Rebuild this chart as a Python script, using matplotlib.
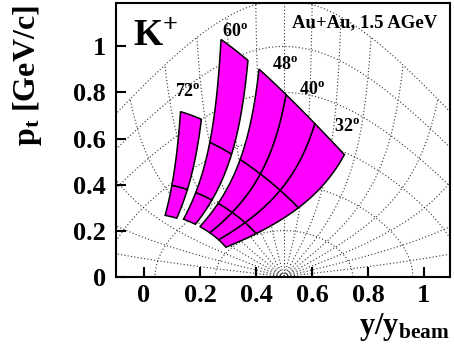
import numpy as np
import matplotlib.pyplot as plt

plt.rcParams['font.family'] = ['Liberation Serif', 'DejaVu Serif']
plt.rcParams['font.weight'] = 'bold'
plt.rcParams['axes.labelweight'] = 'bold'
plt.rcParams['mathtext.fontset'] = 'custom'
plt.rcParams['mathtext.rm'] = 'Liberation Serif:bold'
plt.rcParams['mathtext.it'] = 'Liberation Serif:bold'
plt.rcParams['mathtext.bf'] = 'Liberation Serif:bold'
plt.rcParams['mathtext.default'] = 'rm'

m_k = 0.4937      # K+ mass
y_beam = 1.609    # Au+Au 1.5 AGeV

# acceptance bins: lab-angle edges (deg) and lab-momentum edges (GeV/c)
band72_theta = [67.5, 75.6]
band72_p = [0.275, 0.41, 0.74]
band60_theta = [54.4, 63.1]
band60_p = [0.28, 0.41, 0.655, 1.155]
fwd_theta = [27.2, 35.0, 43.0, 51.0]
fwd_p = [0.28, 0.41, 0.655, 1.16]

# c.m. grid: momentum arcs and polar-angle rays
grid_pcm = [0.2, 0.4, 0.6, 0.8, 1.0, 1.2]
grid_theta_cm = list(range(0, 181, 10))

angle_labels = ['72', '60', '48', '40', '32']
label_x = [0.158, 0.325, 0.505, 0.60, 0.725]
label_pt = [0.804, 1.065, 0.92, 0.812, 0.652]

xticks = [0, 0.2, 0.4, 0.6, 0.8, 1.0]
xticklabels = ['0', '0.2', '0.4', '0.6', '0.8', '1']
yticks = [0, 0.2, 0.4, 0.6, 0.8, 1.0]
yticklabels = ['0', '0.2', '0.4', '0.6', '0.8', '1']


def to_xy(p, theta_deg, shift=0.0):
    th = np.radians(theta_deg)
    pt = p * np.sin(th)
    pz = p * np.cos(th)
    e = np.sqrt(p**2 + m_k**2)
    y = 0.5 * np.log((e + pz) / (e - pz))
    return y / y_beam + shift, pt


def draw_band(ax, thetas, moms):
    n = 40
    for i in range(len(thetas) - 1):
        for j in range(len(moms) - 1):
            t0, t1 = thetas[i], thetas[i + 1]
            p0, p1 = moms[j], moms[j + 1]
            pp = np.concatenate([
                np.linspace(p0, p1, n), np.full(n, p1),
                np.linspace(p1, p0, n), np.full(n, p0)])
            tt = np.concatenate([
                np.full(n, t0), np.linspace(t0, t1, n),
                np.full(n, t1), np.linspace(t1, t0, n)])
            x, pt = to_xy(pp, tt)
            ax.fill(x, pt, facecolor='#ff00ff', edgecolor='black',
                    linewidth=1.1, zorder=3)


fig = plt.figure(figsize=(4.54, 3.59), dpi=100)
ax = fig.add_axes([0.2549, 0.2292, 0.7356, 0.7633])

dot = dict(color='0.2', linestyle=(0, (1, 2)), linewidth=0.8, zorder=1)
th_fine = np.linspace(0, 180, 400)
for p in grid_pcm:
    x, pt = to_xy(np.full_like(th_fine, p), th_fine, 0.5)
    ax.plot(x, pt, **dot)
p_fine = np.linspace(0, grid_pcm[-1], 300)
for th in grid_theta_cm:
    x, pt = to_xy(p_fine, np.full_like(p_fine, th), 0.5)
    ax.plot(x, pt, **dot)

draw_band(ax, band72_theta, band72_p)
draw_band(ax, band60_theta, band60_p)
draw_band(ax, fwd_theta, fwd_p)

for lab, x, y in zip(angle_labels, label_x, label_pt):
    ax.text(x, y, lab + r'$^{\rm o}$', fontsize=13, ha='center',
            va='center', zorder=5)

ax.text(-0.039, 1.007, r'K$^{+}$', fontsize=27, ha='left', va='baseline')
ax.text(0.789, 1.103, 'Au+Au, 1.5 AGeV', fontsize=13.5, ha='center',
        va='center')

ax.set_xlim(-0.101, 1.092)
ax.set_ylim(0, 1.19)
ax.set_xticks(xticks)
ax.set_xticklabels(xticklabels)
ax.set_yticks(yticks)
ax.set_yticklabels(yticklabels)
ax.tick_params(direction='in', length=7, width=1.5, labelsize=19,
               top=False, right=False)
ax.tick_params(axis='x', pad=5)
ax.tick_params(axis='y', pad=7)
for s in ax.spines.values():
    s.set_linewidth(1.5)

ax.set_ylabel(r'p$_{\rm t}$ [GeV/c]', fontsize=23, loc='top')
ax.yaxis.set_label_coords(-0.215, 0.99)
ax.set_xlabel(r'y/y$_{\rm beam}$', fontsize=22, loc='right')
ax.xaxis.set_label_coords(1.0, -0.125)

fig.savefig('out.png', dpi=100)
